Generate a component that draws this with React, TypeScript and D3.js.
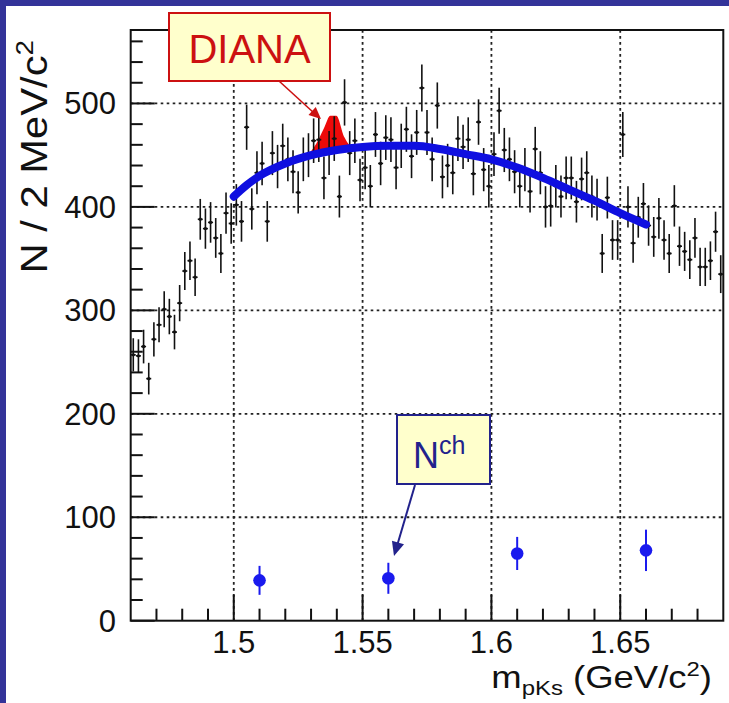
import React from "react";
import * as d3 from "d3";

// ---------- data ----------
const binLow = 1.46;
const binWidth = 0.002;
const counts = [
  257, 256, 265, 234, 272, 286, 301, 294, 279, 307,
  338, 348, 332, 388, 379, 385, 370, 355, 394, 384,
  402, 386, 477, 398, 433, 442, 386, 452, 439, 459,
  446, 434, 414, 446, 450, 464, 465, 428, 452, 466,
  410, 501, 452, 464, 426, 438, 420, 470, 442, 467,
  465, 438, 459, 475, 449, 472, 515, 472, 446, 498,
  429, 440, 433, 466, 458, 465, 432, 482, 436, 420,
  451, 493, 455, 446, 434, 420, 436, 415, 456, 433,
  400, 401, 420, 410, 428, 428, 405, 427, 433, 410,
  407, 355, 409, 368, 368, 470, 400, 365, 390, 403,
  382, 371, 389, 368, 355, 401, 362, 357, 349, 370,
  342, 342, 348, 376, 335,
];

const fitX = [1.5, 1.505, 1.51, 1.52, 1.53, 1.54, 1.55, 1.56, 1.57, 1.58, 1.59, 1.6, 1.61, 1.62, 1.63, 1.64, 1.65, 1.66];
const fitY = [410, 421, 430, 442, 450, 455, 458, 459, 459, 456, 451, 446, 438, 428, 417, 406, 394, 383];

const peakX = [1.528, 1.532, 1.535, 1.5375, 1.5398, 1.543, 1.546, 1.548];
const peakTop = [448, 461, 476, 488, 488, 467, 458, 457.5];
const peakBase = [448, 451, 452.5, 454, 455, 456, 457, 457.5];

const nchX = [1.51, 1.56, 1.61, 1.66];
const nchY = [39, 41, 65, 68];
const nchErr = [14, 15, 16, 20];

const xMajor = [1.5, 1.55, 1.6, 1.65];
const xMajorLabels = ["1.5", "1.55", "1.6", "1.65"];
const yMajor = [0, 100, 200, 300, 400, 500];
const yMajorLabels = ["0", "100", "200", "300", "400", "500"];

// ---------- layout ----------
const W = 729;
const H = 703;
const L = 130.7, R = 723.3, T = 30, B = 620.7;
const FONT = "'Liberation Sans', Arial, Helvetica, sans-serif";

export default function App() {
  const x = d3.scaleLinear().domain([1.46, 1.69]).range([L, R]);
  const y = d3.scaleLinear().domain([0, 571]).range([B, T]);

  const xMinor = d3.range(1.47, 1.6851, 0.01).filter(v => !xMajor.some(m => Math.abs(m - v) < 1e-6));
  const yMinor = d3.range(20, 561, 20).filter(v => v % 100 !== 0);

  const fitLine = d3.line<number>().x((_, i) => x(fitX[i])).y((d) => y(d)).curve(d3.curveMonotoneX);
  const peakArea = d3.area<number>()
    .x((_, i) => x(peakX[i]))
    .y0((_, i) => y(peakBase[i]))
    .y1((d) => y(d))
    .curve(d3.curveMonotoneX);

  const blueBg = "#333399";
  const fitBlue = "#0f0fe0";
  const dotBlue = "#1a1aee";
  const navy = "#22228c";
  const red = "#cc1111";

  const arrowHead = (x1: number, y1: number, x2: number, y2: number, size: number) => {
    const a = Math.atan2(y2 - y1, x2 - x1);
    const w = size * 0.45;
    const bx = x2 - size * Math.cos(a), by = y2 - size * Math.sin(a);
    const p1 = [bx + w * Math.sin(a), by - w * Math.cos(a)];
    const p2 = [bx - w * Math.sin(a), by + w * Math.cos(a)];
    return `M${x2},${y2}L${p1[0]},${p1[1]}L${p2[0]},${p2[1]}Z`;
  };

  return (
    <svg width={W} height={H} style={{ position: "absolute", left: 0, top: 0, background: "#fff" }} fontFamily={FONT}>
      <rect x={0} y={0} width={W} height={H} fill="#fff" />
      <rect x={0} y={0} width={W} height={6} fill={blueBg} />
      <rect x={0} y={0} width={6} height={H} fill={blueBg} />

      {/* grid */}
      <g stroke="#222" strokeWidth={1.8} strokeDasharray="2.6,3.4">
        {xMajor.map((v) => (
          <line key={"gx" + v} x1={x(v)} x2={x(v)} y1={B} y2={T} />
        ))}
        {yMajor.filter(v => v > 0).map((v) => (
          <line key={"gy" + v} x1={L} x2={R} y1={y(v)} y2={y(v)} />
        ))}
      </g>

      {/* ticks */}
      <g stroke="#111" strokeWidth={2}>
        {xMajor.map((v) => (
          <line key={"xt" + v} x1={x(v)} x2={x(v)} y1={B} y2={B - 26} />
        ))}
        {xMinor.map((v) => (
          <line key={"xm" + v} x1={x(v)} x2={x(v)} y1={B} y2={B - 12} />
        ))}
        {yMajor.map((v) => (
          <line key={"yt" + v} x1={L} x2={L + 24} y1={y(v)} y2={y(v)} />
        ))}
        {yMinor.map((v) => (
          <line key={"ym" + v} x1={L} x2={L + 12} y1={y(v)} y2={y(v)} />
        ))}
      </g>

      {/* red peak */}
      <path d={peakArea(peakTop) || ""} fill="#ee0a0a" />

      {/* data points */}
      <g stroke="#111" strokeWidth={1.6}>
        {counts.map((c, i) => {
          const xc = binLow + binWidth * (i + 0.5);
          const e = Math.sqrt(c);
          const px = x(xc);
          return (
            <g key={"d" + i}>
              <line x1={px} x2={px} y1={y(c + e)} y2={y(c - e)} />
              <line x1={px - 2.5} x2={px + 2.5} y1={y(c)} y2={y(c)} />
              <circle cx={px} cy={y(c)} r={1.7} fill="#111" stroke="none" />
            </g>
          );
        })}
      </g>

      {/* fit curve */}
      <path d={fitLine(fitY) || ""} fill="none" stroke={fitBlue} strokeWidth={8} strokeLinecap="round" />

      {/* Nch points */}
      <g>
        {nchX.map((v, i) => (
          <g key={"n" + i}>
            <line x1={x(v)} x2={x(v)} y1={y(nchY[i] + nchErr[i])} y2={y(nchY[i] - nchErr[i])} stroke={dotBlue} strokeWidth={2} />
            <circle cx={x(v)} cy={y(nchY[i])} r={6.3} fill={dotBlue} />
          </g>
        ))}
      </g>

      {/* frame */}
      <rect x={L} y={T} width={R - L} height={B - T} fill="none" stroke="#111" strokeWidth={2} />

      {/* tick labels */}
      <g fontSize={31} fill="#111">
        {xMajor.map((v, i) => (
          <text key={"xl" + v} x={x(v)} y={653} textAnchor="middle">{xMajorLabels[i]}</text>
        ))}
        {yMajor.map((v, i) => (
          <text key={"yl" + v} x={116} y={y(v) + 11} textAnchor="end">{yMajorLabels[i]}</text>
        ))}
      </g>

      {/* axis titles */}
      <text transform="translate(712,688) scale(1.14,1)" x={0} y={0} textAnchor="end" fontSize={32} fill="#111">
        m<tspan fontSize={21} dy={7}>pKs</tspan><tspan dy={-7}> (GeV/c</tspan><tspan fontSize={21} dy={-12}>2</tspan><tspan dy={12}>)</tspan>
      </text>
      <text transform="translate(47,40) rotate(-90) scale(1.16,1)" x={0} y={0} textAnchor="end" fontSize={36} fill="#111">
        N / 2 MeV/c<tspan fontSize={24} dy={-14}>2</tspan>
      </text>

      {/* DIANA annotation */}
      <line x1={279} y1={81} x2={314} y2={113} stroke={red} strokeWidth={1.6} />
      <path d={arrowHead(279, 81, 321, 119, 12)} fill={red} />
      <rect x={169} y={13} width={161} height={68} fill="#ffffcc" stroke={red} strokeWidth={2} />
      <text x={249.5} y={63} textAnchor="middle" fontSize={40} fill={red}>DIANA</text>

      {/* Nch annotation */}
      <line x1={415} y1={485} x2={397} y2={546} stroke={navy} strokeWidth={2} />
      <path d={arrowHead(415, 485, 394, 556, 14)} fill={navy} />
      <rect x={397} y={415} width={93} height={69} fill="#ffffcc" stroke={navy} strokeWidth={2} />
      <text x={413} y={468} fontSize={36} fill={navy}>
        N<tspan fontSize={25} dy={-14}>ch</tspan>
      </text>
    </svg>
  );
}
